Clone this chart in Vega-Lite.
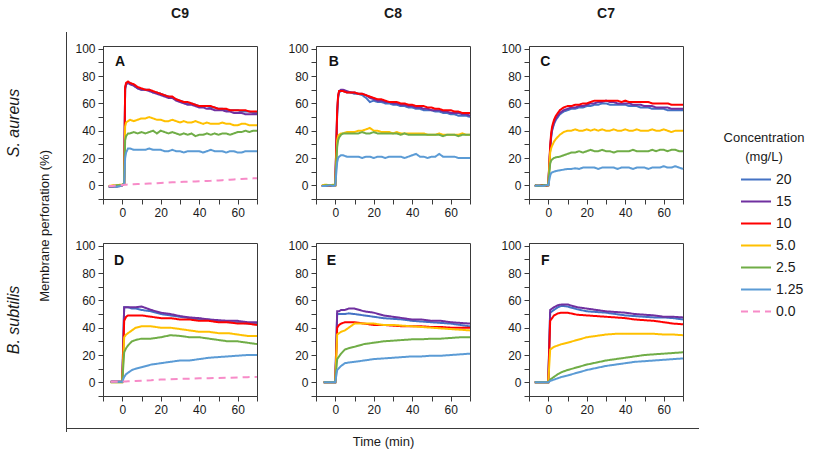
{
  "$schema": "https://vega.github.io/schema/vega-lite/v6.json",
  "padding": {"left": 5, "top": 6, "right": 2, "bottom": 2},
  "background": "white",
  "datasets": {
    "d": [
      {"p":"A","t":-7,"a":-1,"b":-1,"c":-1,"d":-0.5,"e":-0.5,"f":-1,"g":-0.5},
      {"p":"A","t":-5,"a":-1,"b":-0.5,"c":-1,"d":0,"e":-0.5,"f":-1,"g":-0.5},
      {"p":"A","t":-3,"a":-0.5,"b":-1,"c":-0.5,"d":0,"e":0,"f":-1,"g":0},
      {"p":"A","t":-1,"a":0,"b":-0.5,"c":0,"d":0.5,"e":0,"f":-0.5,"g":0},
      {"p":"A","t":0,"a":0,"b":0,"c":0,"d":0.5,"e":0.5,"f":0,"g":0.3},
      {"p":"A","t":1,"a":1,"b":1,"c":1,"d":1,"e":1,"f":1,"g":0.4},
      {"p":"A","t":1.5,"a":70,"b":71,"c":72,"d":43,"e":33,"f":20,"g":0.5},
      {"p":"A","t":2,"a":74,"b":74,"c":75,"d":46,"e":36,"f":24,"g":0.5},
      {"p":"A","t":3,"a":75,"b":75,"c":76,"d":47,"e":38,"f":27,"g":0.6},
      {"p":"A","t":4,"a":75,"b":74,"c":75,"d":48,"e":38,"f":27,"g":0.7},
      {"p":"A","t":6,"a":73,"b":73,"c":74,"d":47,"e":39,"f":26,"g":0.8},
      {"p":"A","t":8,"a":71,"b":71,"c":72,"d":48,"e":38,"f":26,"g":0.9},
      {"p":"A","t":10,"a":70,"b":70,"c":71,"d":49,"e":39,"f":26,"g":1.0},
      {"p":"A","t":12,"a":70,"b":70,"c":70,"d":49,"e":38,"f":26,"g":1.1},
      {"p":"A","t":14,"a":70,"b":69,"c":70,"d":50,"e":39,"f":27,"g":1.3},
      {"p":"A","t":16,"a":68,"b":68,"c":69,"d":49,"e":40,"f":26,"g":1.4},
      {"p":"A","t":18,"a":68,"b":67,"c":68,"d":48,"e":38,"f":26,"g":1.6},
      {"p":"A","t":20,"a":67,"b":66,"c":67,"d":48,"e":40,"f":26,"g":1.8},
      {"p":"A","t":22,"a":66,"b":65,"c":66,"d":47,"e":39,"f":25,"g":1.9},
      {"p":"A","t":24,"a":65,"b":64,"c":65,"d":47,"e":38,"f":25,"g":2.0},
      {"p":"A","t":26,"a":64,"b":64,"c":65,"d":48,"e":39,"f":26,"g":2.2},
      {"p":"A","t":28,"a":63,"b":62,"c":63,"d":47,"e":38,"f":25,"g":2.3},
      {"p":"A","t":30,"a":62,"b":61,"c":62,"d":46,"e":37,"f":25,"g":2.5},
      {"p":"A","t":32,"a":61,"b":60,"c":61,"d":47,"e":38,"f":24,"g":2.6},
      {"p":"A","t":34,"a":60,"b":59,"c":61,"d":46,"e":37,"f":25,"g":2.7},
      {"p":"A","t":36,"a":60,"b":59,"c":60,"d":46,"e":38,"f":25,"g":2.8},
      {"p":"A","t":38,"a":59,"b":58,"c":59,"d":47,"e":36,"f":25,"g":2.9},
      {"p":"A","t":40,"a":58,"b":57,"c":58,"d":46,"e":37,"f":25,"g":3.0},
      {"p":"A","t":42,"a":58,"b":57,"c":58,"d":45,"e":37,"f":24,"g":3.1},
      {"p":"A","t":44,"a":58,"b":56,"c":58,"d":46,"e":38,"f":25,"g":3.2},
      {"p":"A","t":46,"a":57,"b":56,"c":58,"d":45,"e":37,"f":26,"g":3.3},
      {"p":"A","t":48,"a":57,"b":55,"c":57,"d":45,"e":38,"f":25,"g":3.5},
      {"p":"A","t":50,"a":56,"b":55,"c":56,"d":45,"e":37,"f":25,"g":3.6},
      {"p":"A","t":52,"a":56,"b":55,"c":56,"d":46,"e":38,"f":25,"g":3.8},
      {"p":"A","t":54,"a":55,"b":54,"c":56,"d":45,"e":38,"f":24,"g":3.9},
      {"p":"A","t":56,"a":55,"b":54,"c":55,"d":45,"e":37,"f":25,"g":4.1},
      {"p":"A","t":58,"a":55,"b":53,"c":55,"d":44,"e":38,"f":25,"g":4.3},
      {"p":"A","t":60,"a":55,"b":53,"c":55,"d":44,"e":39,"f":24,"g":4.5},
      {"p":"A","t":62,"a":54,"b":53,"c":55,"d":45,"e":39,"f":24,"g":4.6},
      {"p":"A","t":64,"a":54,"b":52,"c":55,"d":45,"e":40,"f":25,"g":4.8},
      {"p":"A","t":66,"a":54,"b":52,"c":54,"d":44,"e":39,"f":25,"g":5.0},
      {"p":"A","t":68,"a":53,"b":52,"c":54,"d":44,"e":40,"f":25,"g":5.1},
      {"p":"A","t":70,"a":53,"b":52,"c":54,"d":44,"e":40,"f":25,"g":5.2},

      {"p":"B","t":-7,"a":-0.5,"b":-0.5,"c":-0.5,"d":0,"e":-0.5,"f":-0.5},
      {"p":"B","t":-5,"a":0,"b":-0.5,"c":0,"d":0.5,"e":0,"f":-0.5},
      {"p":"B","t":-3,"a":-0.5,"b":0,"c":-0.5,"d":0,"e":0,"f":0},
      {"p":"B","t":-1,"a":0,"b":0,"c":0,"d":0.5,"e":0,"f":-0.5},
      {"p":"B","t":0,"a":0,"b":0,"c":0,"d":0,"e":0,"f":0},
      {"p":"B","t":1,"a":52,"b":53,"c":55,"d":33,"e":28,"f":17},
      {"p":"B","t":1.5,"a":64,"b":65,"c":66,"d":36,"e":33,"f":20},
      {"p":"B","t":2,"a":68,"b":69,"c":69,"d":37,"e":35,"f":21},
      {"p":"B","t":3,"a":69,"b":70,"c":69,"d":38,"e":37,"f":22},
      {"p":"B","t":4,"a":69,"b":70,"c":69,"d":38,"e":38,"f":22},
      {"p":"B","t":6,"a":68,"b":69,"c":68,"d":39,"e":38,"f":21},
      {"p":"B","t":8,"a":68,"b":68,"c":68,"d":39,"e":38,"f":21},
      {"p":"B","t":10,"a":67,"b":68,"c":68,"d":39,"e":38,"f":21},
      {"p":"B","t":12,"a":67,"b":67,"c":67,"d":40,"e":38,"f":21},
      {"p":"B","t":14,"a":66,"b":67,"c":67,"d":40,"e":39,"f":20},
      {"p":"B","t":16,"a":64,"b":66,"c":66,"d":41,"e":38,"f":21},
      {"p":"B","t":18,"a":61,"b":64,"c":65,"d":42,"e":38,"f":21},
      {"p":"B","t":20,"a":62,"b":63,"c":64,"d":40,"e":39,"f":20},
      {"p":"B","t":22,"a":61,"b":62,"c":63,"d":40,"e":38,"f":21},
      {"p":"B","t":24,"a":61,"b":62,"c":63,"d":39,"e":38,"f":21},
      {"p":"B","t":26,"a":60,"b":61,"c":62,"d":39,"e":38,"f":20},
      {"p":"B","t":28,"a":60,"b":61,"c":61,"d":39,"e":38,"f":21},
      {"p":"B","t":30,"a":59,"b":60,"c":61,"d":38,"e":38,"f":21},
      {"p":"B","t":32,"a":59,"b":60,"c":61,"d":39,"e":38,"f":21},
      {"p":"B","t":34,"a":58,"b":59,"c":60,"d":38,"e":37,"f":21},
      {"p":"B","t":36,"a":58,"b":59,"c":60,"d":38,"e":38,"f":20},
      {"p":"B","t":38,"a":57,"b":58,"c":59,"d":38,"e":37,"f":21},
      {"p":"B","t":40,"a":57,"b":58,"c":59,"d":38,"e":37,"f":22},
      {"p":"B","t":42,"a":56,"b":57,"c":58,"d":38,"e":37,"f":23},
      {"p":"B","t":44,"a":56,"b":57,"c":58,"d":38,"e":37,"f":21},
      {"p":"B","t":46,"a":55,"b":56,"c":58,"d":38,"e":37,"f":21},
      {"p":"B","t":48,"a":55,"b":56,"c":57,"d":37,"e":37,"f":20},
      {"p":"B","t":50,"a":55,"b":55,"c":57,"d":37,"e":37,"f":21},
      {"p":"B","t":52,"a":54,"b":55,"c":56,"d":37,"e":37,"f":21},
      {"p":"B","t":54,"a":54,"b":55,"c":56,"d":38,"e":37,"f":23},
      {"p":"B","t":56,"a":53,"b":54,"c":55,"d":37,"e":36,"f":21},
      {"p":"B","t":58,"a":53,"b":54,"c":55,"d":37,"e":37,"f":21},
      {"p":"B","t":60,"a":52,"b":53,"c":55,"d":37,"e":37,"f":21},
      {"p":"B","t":62,"a":52,"b":53,"c":54,"d":37,"e":37,"f":21},
      {"p":"B","t":64,"a":51,"b":53,"c":54,"d":37,"e":36,"f":20},
      {"p":"B","t":66,"a":51,"b":52,"c":53,"d":38,"e":37,"f":20},
      {"p":"B","t":68,"a":51,"b":52,"c":53,"d":37,"e":37,"f":20},
      {"p":"B","t":70,"a":50,"b":51,"c":53,"d":37,"e":37,"f":20},

      {"p":"C","t":-7,"a":-0.5,"b":0,"c":-0.5,"d":-0.5,"e":0,"f":-0.5},
      {"p":"C","t":-5,"a":0,"b":-0.5,"c":0,"d":0,"e":-0.5,"f":0},
      {"p":"C","t":-3,"a":-0.5,"b":0,"c":0,"d":-0.5,"e":0,"f":-0.5},
      {"p":"C","t":-1,"a":0,"b":0,"c":-0.5,"d":0,"e":0,"f":0},
      {"p":"C","t":0,"a":0,"b":0,"c":0,"d":0,"e":0,"f":0},
      {"p":"C","t":1,"a":26,"b":27,"c":29,"d":24,"e":16,"f":7},
      {"p":"C","t":1.5,"a":35,"b":36,"c":38,"d":27,"e":18,"f":9},
      {"p":"C","t":2,"a":40,"b":41,"c":43,"d":29,"e":19,"f":9.5},
      {"p":"C","t":3,"a":45,"b":46,"c":48,"d":32,"e":20,"f":10},
      {"p":"C","t":4,"a":48,"b":49,"c":51,"d":34,"e":20.5,"f":10.5},
      {"p":"C","t":6,"a":52,"b":53,"c":55,"d":37,"e":21,"f":11},
      {"p":"C","t":8,"a":54,"b":55,"c":57,"d":39,"e":22,"f":11.5},
      {"p":"C","t":10,"a":55,"b":56,"c":58,"d":40,"e":23,"f":12},
      {"p":"C","t":12,"a":56,"b":57,"c":58,"d":40,"e":24,"f":12},
      {"p":"C","t":14,"a":56,"b":57,"c":59,"d":41,"e":24,"f":12.5},
      {"p":"C","t":16,"a":57,"b":58,"c":59,"d":40,"e":25,"f":12},
      {"p":"C","t":18,"a":57,"b":58,"c":60,"d":40,"e":24,"f":13},
      {"p":"C","t":20,"a":58,"b":59,"c":60,"d":41,"e":25,"f":13},
      {"p":"C","t":22,"a":58,"b":60,"c":61,"d":40,"e":26,"f":13},
      {"p":"C","t":24,"a":59,"b":60,"c":62,"d":41,"e":25,"f":13},
      {"p":"C","t":26,"a":59,"b":61,"c":62,"d":40,"e":25,"f":12},
      {"p":"C","t":28,"a":60,"b":61,"c":62,"d":41,"e":26,"f":13},
      {"p":"C","t":30,"a":60,"b":62,"c":62,"d":40,"e":25,"f":13},
      {"p":"C","t":32,"a":59,"b":61,"c":62,"d":40,"e":25,"f":13},
      {"p":"C","t":34,"a":59,"b":61,"c":62,"d":41,"e":24,"f":13},
      {"p":"C","t":36,"a":59,"b":60,"c":62,"d":40,"e":25,"f":12},
      {"p":"C","t":38,"a":59,"b":60,"c":61,"d":40,"e":25,"f":13},
      {"p":"C","t":40,"a":59,"b":60,"c":62,"d":41,"e":25,"f":13},
      {"p":"C","t":42,"a":58,"b":60,"c":61,"d":40,"e":25,"f":13},
      {"p":"C","t":44,"a":58,"b":59,"c":61,"d":40,"e":26,"f":12},
      {"p":"C","t":46,"a":58,"b":59,"c":61,"d":41,"e":25,"f":13},
      {"p":"C","t":48,"a":57,"b":59,"c":61,"d":40,"e":25,"f":13},
      {"p":"C","t":50,"a":57,"b":58,"c":61,"d":40,"e":25,"f":13},
      {"p":"C","t":52,"a":57,"b":58,"c":61,"d":40,"e":25,"f":12},
      {"p":"C","t":54,"a":56,"b":58,"c":60,"d":41,"e":26,"f":13},
      {"p":"C","t":56,"a":56,"b":57,"c":60,"d":40,"e":25,"f":13},
      {"p":"C","t":58,"a":56,"b":57,"c":60,"d":40,"e":26,"f":13},
      {"p":"C","t":60,"a":56,"b":57,"c":60,"d":41,"e":26,"f":14},
      {"p":"C","t":62,"a":55,"b":57,"c":60,"d":40,"e":25,"f":13},
      {"p":"C","t":64,"a":55,"b":56,"c":59,"d":39,"e":26,"f":13},
      {"p":"C","t":66,"a":55,"b":56,"c":59,"d":40,"e":26,"f":14},
      {"p":"C","t":68,"a":55,"b":56,"c":59,"d":40,"e":25,"f":13},
      {"p":"C","t":70,"a":55,"b":56,"c":59,"d":40,"e":25,"f":12},

      {"p":"D","t":-6,"a":0.5,"b":0.5,"c":0.5,"d":0,"e":0,"f":0.5,"g":0.5},
      {"p":"D","t":-3,"a":0.5,"b":0.5,"c":0.5,"d":0,"e":0,"f":0.5,"g":0.5},
      {"p":"D","t":0,"a":0.5,"b":0.5,"c":0.5,"d":0,"e":0,"f":0.5,"g":0.5},
      {"p":"D","t":1,"a":55,"b":55,"c":45,"d":33,"e":22,"f":4,"g":0.6},
      {"p":"D","t":2,"a":55,"b":55,"c":48,"d":35,"e":25,"f":6,"g":0.7},
      {"p":"D","t":3,"a":55,"b":55,"c":49,"d":36,"e":27,"f":7,"g":0.8},
      {"p":"D","t":5,"a":54,"b":55,"c":49,"d":38,"e":30,"f":9,"g":0.9},
      {"p":"D","t":7,"a":54,"b":55,"c":49,"d":40,"e":31,"f":10,"g":1},
      {"p":"D","t":10,"a":53,"b":55.5,"c":49,"d":41,"e":32,"f":11,"g":1.2},
      {"p":"D","t":15,"a":52,"b":53,"c":48,"d":41,"e":32,"f":13,"g":1.5},
      {"p":"D","t":20,"a":50,"b":51,"c":47,"d":40,"e":33,"f":14,"g":2},
      {"p":"D","t":25,"a":49,"b":50,"c":47,"d":40,"e":34.5,"f":15,"g":2.3},
      {"p":"D","t":30,"a":48,"b":48.5,"c":46,"d":39,"e":34,"f":16,"g":2.5},
      {"p":"D","t":35,"a":47,"b":47.5,"c":46,"d":38,"e":33,"f":16,"g":2.7},
      {"p":"D","t":40,"a":46,"b":47,"c":45,"d":37,"e":33,"f":17,"g":3},
      {"p":"D","t":45,"a":46,"b":46,"c":45,"d":37,"e":32,"f":18,"g":3},
      {"p":"D","t":50,"a":45,"b":45.5,"c":44,"d":36,"e":31,"f":18.5,"g":3.2},
      {"p":"D","t":55,"a":44,"b":45,"c":44,"d":36,"e":30,"f":19,"g":3.3},
      {"p":"D","t":60,"a":44,"b":45,"c":43,"d":35,"e":30,"f":19.5,"g":3.5},
      {"p":"D","t":65,"a":43,"b":44,"c":43,"d":34,"e":29,"f":20,"g":3.8},
      {"p":"D","t":70,"a":43,"b":44,"c":42,"d":34,"e":28,"f":20,"g":4},

      {"p":"E","t":-6,"a":0,"b":0,"c":0,"d":0,"e":0,"f":0},
      {"p":"E","t":-3,"a":0,"b":0,"c":0,"d":0,"e":0,"f":0},
      {"p":"E","t":0,"a":0,"b":0,"c":0,"d":0,"e":0,"f":0},
      {"p":"E","t":1,"a":50,"b":52,"c":40,"d":35,"e":17,"f":9},
      {"p":"E","t":2,"a":50,"b":52,"c":42,"d":36,"e":19,"f":10.5},
      {"p":"E","t":3,"a":50,"b":53,"c":43,"d":37,"e":21,"f":12},
      {"p":"E","t":5,"a":50,"b":53,"c":44,"d":38,"e":24,"f":14},
      {"p":"E","t":7,"a":50.5,"b":54,"c":44,"d":40,"e":25,"f":14.5},
      {"p":"E","t":10,"a":50,"b":54,"c":44,"d":43,"e":26,"f":15},
      {"p":"E","t":15,"a":49,"b":52,"c":43,"d":43,"e":28,"f":16},
      {"p":"E","t":20,"a":48,"b":51,"c":42,"d":43,"e":29,"f":17},
      {"p":"E","t":25,"a":47,"b":49,"c":42,"d":42,"e":30,"f":17.5},
      {"p":"E","t":30,"a":46.5,"b":48,"c":41.5,"d":42,"e":30.5,"f":18},
      {"p":"E","t":35,"a":46,"b":47,"c":41,"d":41.5,"e":31,"f":18.5},
      {"p":"E","t":40,"a":45,"b":46,"c":41,"d":41,"e":31.5,"f":19},
      {"p":"E","t":45,"a":44.5,"b":46,"c":41,"d":40.5,"e":31.5,"f":19},
      {"p":"E","t":50,"a":44,"b":45,"c":40.5,"d":40,"e":32,"f":19.5},
      {"p":"E","t":55,"a":43.5,"b":45,"c":40.5,"d":39.5,"e":32,"f":19.5},
      {"p":"E","t":60,"a":43,"b":44,"c":40,"d":39,"e":32.5,"f":20},
      {"p":"E","t":65,"a":42,"b":43.5,"c":40,"d":38.5,"e":33,"f":20.5},
      {"p":"E","t":70,"a":41,"b":43,"c":40,"d":38,"e":33,"f":21},

      {"p":"F","t":-7,"a":0,"b":0,"c":0,"d":0,"e":0,"f":0},
      {"p":"F","t":-3,"a":0,"b":0,"c":0,"d":0,"e":0,"f":0},
      {"p":"F","t":0,"a":0,"b":0,"c":0,"d":0,"e":0,"f":0},
      {"p":"F","t":1,"a":51,"b":53,"c":45,"d":24,"e":2,"f":1},
      {"p":"F","t":2,"a":52,"b":54,"c":47,"d":25,"e":3,"f":1.5},
      {"p":"F","t":3,"a":53,"b":55,"c":49,"d":26,"e":4,"f":2},
      {"p":"F","t":5,"a":55,"b":56.5,"c":50.5,"d":27,"e":6,"f":3},
      {"p":"F","t":7,"a":56,"b":57,"c":51,"d":28,"e":7.5,"f":4},
      {"p":"F","t":10,"a":55.5,"b":57,"c":51,"d":29,"e":9,"f":5},
      {"p":"F","t":15,"a":53.5,"b":55,"c":49.5,"d":31,"e":11,"f":7},
      {"p":"F","t":20,"a":52,"b":54,"c":49,"d":33,"e":13,"f":9},
      {"p":"F","t":25,"a":51.5,"b":53,"c":48.5,"d":34,"e":14.5,"f":10.5},
      {"p":"F","t":30,"a":51,"b":52,"c":48,"d":35,"e":16,"f":12},
      {"p":"F","t":35,"a":50,"b":51.5,"c":47.5,"d":35.5,"e":17,"f":13},
      {"p":"F","t":40,"a":49,"b":51,"c":47,"d":35.5,"e":18,"f":14},
      {"p":"F","t":45,"a":48.5,"b":50,"c":46,"d":35.5,"e":19,"f":15},
      {"p":"F","t":50,"a":48,"b":49.5,"c":45.5,"d":35.5,"e":20,"f":15.5},
      {"p":"F","t":55,"a":47.5,"b":49,"c":45,"d":35.5,"e":20.5,"f":16},
      {"p":"F","t":60,"a":47.5,"b":48,"c":44,"d":35,"e":21,"f":16.5},
      {"p":"F","t":65,"a":47,"b":48,"c":43,"d":35,"e":21.5,"f":17},
      {"p":"F","t":70,"a":46,"b":47.5,"c":42.5,"d":34.5,"e":22,"f":17.5}
    ],
    "conc": [
      {"k":"a","conc":"20"},{"k":"b","conc":"15"},{"k":"c","conc":"10"},{"k":"d","conc":"5.0"},
      {"k":"e","conc":"2.5"},{"k":"f","conc":"1.25"},{"k":"g","conc":"0.0"}
    ]
  },
  "data": {"name": "d"},
  "transform": [
    {"fold": ["a","b","c","d","e","f","g"], "as": ["k","v"]},
    {"lookup": "k", "from": {"data": {"name": "conc"}, "key": "k", "fields": ["conc"]}}
  ],
  "title": {"text": "Membrane perforation (%)", "orient": "left", "anchor": "middle", "offset": -47, "dx": 12, "fontSize": 13, "fontWeight": "normal", "color": "#1a1a1a"},
  "columns": 3,
  "bounds": "flush",
  "spacing": {"row": 44, "column": 59},
  "concat": [
    {
      "width": 154, "height": 153,
      "title": {"text": "C9"},
      "resolve": {"axis": {"x": "independent"}},
      "layer": [
        {
          "transform": [{"filter": {"field": "p", "equal": "A"}}],
          "mark": {"type": "line", "strokeWidth": 2},
          "encoding": {
            "x": {"field": "t", "type": "quantitative", "scale": {"domain": [-10,70], "nice": false}, "axis": {"orient": "bottom", "values": [-10,0,10,20,30,40,50,60,70], "tickCount": 30, "labelExpr": "datum.value % 20 == 0 && datum.value >= 0 ? datum.label : ''", "title": null}},
            "y": {"field": "v", "type": "quantitative", "scale": {"domain": [-10,102], "nice": false}, "axis": {"values": [-10,0,10,20,30,40,50,60,70,80,90,100], "tickCount": 30, "labelExpr": "datum.value % 20 == 0 && datum.value >= 0 ? datum.label : ''", "title": "S. aureus", "titleFontStyle": "italic", "titleFontSize": 16, "titlePadding": 53}},
            "color": {"field": "conc", "type": "nominal", "title": ["Concentration", "(mg/L)"], "scale": {"domain": ["20","15","10","5.0","2.5","1.25","0.0"], "range": ["#4472C4","#7030A0","#FF0000","#FFC000","#70AD47","#5B9BD5","#F78BC8"]}},
            "strokeDash": {"field": "conc", "type": "nominal", "title": ["Concentration", "(mg/L)"], "scale": {"domain": ["20","15","10","5.0","2.5","1.25","0.0"], "range": [[1,0],[1,0],[1,0],[1,0],[1,0],[1,0],[7,5]]}}
          }
        },
        {
          "data": {"values": [{"t": -1.2, "v": 90, "s": "A"}]},
          "mark": {"type": "text", "fontSize": 14, "fontWeight": "bold", "color": "#111"},
          "encoding": {
            "x": {"field": "t", "type": "quantitative", "axis": {"orient": "top", "values": [-10], "tickCount": 30, "domain": false, "labels": false, "title": null, "translate": -36.5, "offset": -22.5, "tickSize": -400, "tickColor": "#3a3a3a"}},
            "y": {"field": "v", "type": "quantitative"},
            "text": {"field": "s"}
          }
        }
      ]
    },
    {
      "width": 154, "height": 153,
      "title": {"text": "C8"},
      "layer": [
        {
          "transform": [{"filter": {"field": "p", "equal": "B"}}],
          "mark": {"type": "line", "strokeWidth": 2},
          "encoding": {
            "x": {"field": "t", "type": "quantitative", "scale": {"domain": [-10,70], "nice": false}, "axis": {"values": [-10,0,10,20,30,40,50,60,70], "tickCount": 30, "labelExpr": "datum.value % 20 == 0 && datum.value >= 0 ? datum.label : ''", "title": null}},
            "y": {"field": "v", "type": "quantitative", "scale": {"domain": [-10,102], "nice": false}, "axis": {"values": [-10,0,10,20,30,40,50,60,70,80,90,100], "tickCount": 30, "labelExpr": "datum.value % 20 == 0 && datum.value >= 0 ? datum.label : ''", "title": null}},
            "color": {"field": "conc", "type": "nominal", "title": ["Concentration", "(mg/L)"], "scale": {"domain": ["20","15","10","5.0","2.5","1.25","0.0"], "range": ["#4472C4","#7030A0","#FF0000","#FFC000","#70AD47","#5B9BD5","#F78BC8"]}},
            "strokeDash": {"field": "conc", "type": "nominal", "title": ["Concentration", "(mg/L)"], "scale": {"domain": ["20","15","10","5.0","2.5","1.25","0.0"], "range": [[1,0],[1,0],[1,0],[1,0],[1,0],[1,0],[7,5]]}}
          }
        },
        {
          "data": {"values": [{"t": -0.7, "v": 90, "s": "B"}]},
          "mark": {"type": "text", "fontSize": 14, "fontWeight": "bold", "color": "#111"},
          "encoding": {"x": {"field": "t", "type": "quantitative"}, "y": {"field": "v", "type": "quantitative"}, "text": {"field": "s"}}
        }
      ]
    },
    {
      "width": 154, "height": 153,
      "title": {"text": "C7"},
      "layer": [
        {
          "transform": [{"filter": {"field": "p", "equal": "C"}}],
          "mark": {"type": "line", "strokeWidth": 2},
          "encoding": {
            "x": {"field": "t", "type": "quantitative", "scale": {"domain": [-10,70], "nice": false}, "axis": {"values": [-10,0,10,20,30,40,50,60,70], "tickCount": 30, "labelExpr": "datum.value % 20 == 0 && datum.value >= 0 ? datum.label : ''", "title": null}},
            "y": {"field": "v", "type": "quantitative", "scale": {"domain": [-10,102], "nice": false}, "axis": {"values": [-10,0,10,20,30,40,50,60,70,80,90,100], "tickCount": 30, "labelExpr": "datum.value % 20 == 0 && datum.value >= 0 ? datum.label : ''", "title": null}},
            "color": {"field": "conc", "type": "nominal", "title": ["Concentration", "(mg/L)"], "scale": {"domain": ["20","15","10","5.0","2.5","1.25","0.0"], "range": ["#4472C4","#7030A0","#FF0000","#FFC000","#70AD47","#5B9BD5","#F78BC8"]}},
            "strokeDash": {"field": "conc", "type": "nominal", "title": ["Concentration", "(mg/L)"], "scale": {"domain": ["20","15","10","5.0","2.5","1.25","0.0"], "range": [[1,0],[1,0],[1,0],[1,0],[1,0],[1,0],[7,5]]}}
          }
        },
        {
          "data": {"values": [{"t": -1.5, "v": 90, "s": "C"}]},
          "mark": {"type": "text", "fontSize": 14, "fontWeight": "bold", "color": "#111"},
          "encoding": {"x": {"field": "t", "type": "quantitative"}, "y": {"field": "v", "type": "quantitative"}, "text": {"field": "s"}}
        }
      ]
    },
    {
      "width": 154, "height": 153,
      "resolve": {"axis": {"y": "independent"}},
      "layer": [
        {
          "transform": [{"filter": {"field": "p", "equal": "D"}}],
          "mark": {"type": "line", "strokeWidth": 2},
          "encoding": {
            "x": {"field": "t", "type": "quantitative", "scale": {"domain": [-10,70], "nice": false}, "axis": {"values": [-10,0,10,20,30,40,50,60,70], "tickCount": 30, "labelExpr": "datum.value % 20 == 0 && datum.value >= 0 ? datum.label : ''", "title": null}},
            "y": {"field": "v", "type": "quantitative", "scale": {"domain": [-10,102], "nice": false}, "axis": {"orient": "left", "values": [-10,0,10,20,30,40,50,60,70,80,90,100], "tickCount": 30, "labelExpr": "datum.value % 20 == 0 && datum.value >= 0 ? datum.label : ''", "title": "B. subtilis", "titleFontStyle": "italic", "titleFontSize": 16, "titlePadding": 53}},
            "color": {"field": "conc", "type": "nominal", "title": ["Concentration", "(mg/L)"], "scale": {"domain": ["20","15","10","5.0","2.5","1.25","0.0"], "range": ["#4472C4","#7030A0","#FF0000","#FFC000","#70AD47","#5B9BD5","#F78BC8"]}},
            "strokeDash": {"field": "conc", "type": "nominal", "title": ["Concentration", "(mg/L)"], "scale": {"domain": ["20","15","10","5.0","2.5","1.25","0.0"], "range": [[1,0],[1,0],[1,0],[1,0],[1,0],[1,0],[7,5]]}}
          }
        },
        {
          "data": {"values": [{"t": -1.7, "v": 89, "s": "D"}]},
          "mark": {"type": "text", "fontSize": 14, "fontWeight": "bold", "color": "#111"},
          "encoding": {
            "x": {"field": "t", "type": "quantitative"},
            "y": {"field": "v", "type": "quantitative", "axis": {"orient": "left", "values": [-10], "tickCount": 30, "domain": false, "labels": false, "title": null, "translate": 32.5, "offset": 69.5, "tickSize": -633, "tickColor": "#3a3a3a"}},
            "text": {"field": "s"}
          }
        }
      ]
    },
    {
      "width": 154, "height": 153,
      "layer": [
        {
          "transform": [{"filter": {"field": "p", "equal": "E"}}],
          "mark": {"type": "line", "strokeWidth": 2},
          "encoding": {
            "x": {"field": "t", "type": "quantitative", "scale": {"domain": [-10,70], "nice": false}, "axis": {"values": [-10,0,10,20,30,40,50,60,70], "tickCount": 30, "labelExpr": "datum.value % 20 == 0 && datum.value >= 0 ? datum.label : ''", "title": "Time (min)", "titleFontSize": 13, "titlePadding": 20, "titleX": 67}},
            "y": {"field": "v", "type": "quantitative", "scale": {"domain": [-10,102], "nice": false}, "axis": {"values": [-10,0,10,20,30,40,50,60,70,80,90,100], "tickCount": 30, "labelExpr": "datum.value % 20 == 0 && datum.value >= 0 ? datum.label : ''", "title": null}},
            "color": {"field": "conc", "type": "nominal", "title": ["Concentration", "(mg/L)"], "scale": {"domain": ["20","15","10","5.0","2.5","1.25","0.0"], "range": ["#4472C4","#7030A0","#FF0000","#FFC000","#70AD47","#5B9BD5","#F78BC8"]}},
            "strokeDash": {"field": "conc", "type": "nominal", "title": ["Concentration", "(mg/L)"], "scale": {"domain": ["20","15","10","5.0","2.5","1.25","0.0"], "range": [[1,0],[1,0],[1,0],[1,0],[1,0],[1,0],[7,5]]}}
          }
        },
        {
          "data": {"values": [{"t": -2, "v": 89, "s": "E"}]},
          "mark": {"type": "text", "fontSize": 14, "fontWeight": "bold", "color": "#111"},
          "encoding": {"x": {"field": "t", "type": "quantitative"}, "y": {"field": "v", "type": "quantitative"}, "text": {"field": "s"}}
        }
      ]
    },
    {
      "width": 154, "height": 153,
      "layer": [
        {
          "transform": [{"filter": {"field": "p", "equal": "F"}}],
          "mark": {"type": "line", "strokeWidth": 2},
          "encoding": {
            "x": {"field": "t", "type": "quantitative", "scale": {"domain": [-10,70], "nice": false}, "axis": {"values": [-10,0,10,20,30,40,50,60,70], "tickCount": 30, "labelExpr": "datum.value % 20 == 0 && datum.value >= 0 ? datum.label : ''", "title": null}},
            "y": {"field": "v", "type": "quantitative", "scale": {"domain": [-10,102], "nice": false}, "axis": {"values": [-10,0,10,20,30,40,50,60,70,80,90,100], "tickCount": 30, "labelExpr": "datum.value % 20 == 0 && datum.value >= 0 ? datum.label : ''", "title": null}},
            "color": {"field": "conc", "type": "nominal", "title": ["Concentration", "(mg/L)"], "scale": {"domain": ["20","15","10","5.0","2.5","1.25","0.0"], "range": ["#4472C4","#7030A0","#FF0000","#FFC000","#70AD47","#5B9BD5","#F78BC8"]}},
            "strokeDash": {"field": "conc", "type": "nominal", "title": ["Concentration", "(mg/L)"], "scale": {"domain": ["20","15","10","5.0","2.5","1.25","0.0"], "range": [[1,0],[1,0],[1,0],[1,0],[1,0],[1,0],[7,5]]}}
          }
        },
        {
          "data": {"values": [{"t": -1.5, "v": 89, "s": "F"}]},
          "mark": {"type": "text", "fontSize": 14, "fontWeight": "bold", "color": "#111"},
          "encoding": {"x": {"field": "t", "type": "quantitative"}, "y": {"field": "v", "type": "quantitative"}, "text": {"field": "s"}}
        }
      ]
    }
  ],
  "config": {
    "font": "Liberation Sans",
    "view": {"stroke": "#3a3a3a", "strokeWidth": 1},
    "axis": {"grid": false, "domainColor": "#3a3a3a", "tickColor": "#3a3a3a", "labelColor": "#1a1a1a", "labelFontSize": 12, "tickSize": 5, "labelPadding": 3, "titleColor": "#1a1a1a", "titleFontWeight": "normal", "labelOverlap": false, "labelFlush": false},
    "title": {"fontSize": 14, "fontWeight": "bold", "offset": 22, "color": "#1a1a1a"},
    "legend": {"orient": "none", "legendX": 621, "legendY": 86, "symbolType": "stroke", "symbolSize": 900, "symbolStrokeWidth": 2, "clipHeight": 22, "labelFontSize": 14, "labelColor": "#1a1a1a", "titleFontSize": 13, "titleFontWeight": "normal", "titleColor": "#1a1a1a", "titleAlign": "center", "titleAnchor": "middle", "titleLineHeight": 19, "titlePadding": 4.5, "rowPadding": 0, "labelOffset": 4, "symbolOffset": 16}
  }
}
